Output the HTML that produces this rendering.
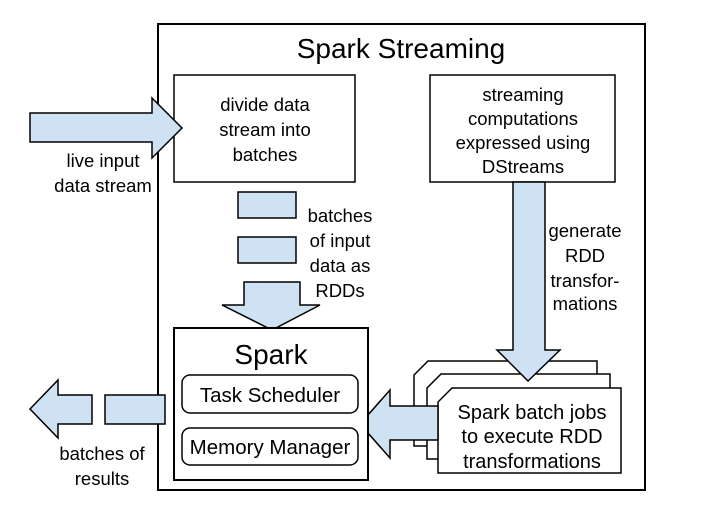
<!DOCTYPE html>
<html><head><meta charset="utf-8"><style>
body{margin:0;background:#fff}
svg text{font-family:"Liberation Sans",sans-serif;fill:#000}
</style></head><body>
<svg width="708" height="514" viewBox="0 0 708 514" xmlns="http://www.w3.org/2000/svg">
<g fill="#cfe2f3" stroke="#000" stroke-width="1.5">
<rect x="158" y="24" width="487" height="466" fill="#fff" stroke-width="2"/>
<rect x="174" y="75" width="181" height="107" fill="#fff"/>
<rect x="430" y="75" width="185" height="107" fill="#fff"/>
<polygon points="30,113 152,113 152,98 182,128 152,158 152,142 30,142"/>
<rect x="238" y="192" width="58" height="26"/>
<rect x="238" y="237" width="58" height="26"/>
<polygon points="244,282 300,282 300,305 320,305 272,330 222,305 244,305"/>
<polygon points="428,361 597,361 597,446 414,446 414,375" fill="#fff"/>
<polygon points="441,374 610,374 610,459 427,459 427,388" fill="#fff"/>
<polygon points="452,388 621,388 621,473 438,473 438,402" fill="#fff"/>
<polygon points="513,182 545,182 545,350 560,350 528,381 497,350 513,350"/>
<polygon points="438,406 390,406 390,390 360,424 390,458 390,440 438,440"/>
<rect x="174" y="328" width="194" height="152" fill="#fff" stroke-width="2"/>
<rect x="182" y="375" width="176" height="38" rx="8" fill="#fff"/>
<rect x="182" y="428" width="176" height="37" rx="8" fill="#fff"/>
<rect x="105" y="395" width="60" height="29"/>
<polygon points="92,395 58,395 58,380 30,409 58,438 58,424 92,424"/>
</g>
<g font-size="18.5" text-anchor="middle">
<text x="401" y="58" font-size="28">Spark Streaming</text>
<text x="265" y="111">divide data</text>
<text x="265" y="136">stream into</text>
<text x="265" y="161">batches</text>
<text x="523" y="101">streaming</text>
<text x="523" y="125">computations</text>
<text x="523" y="149">expressed using</text>
<text x="523" y="173">DStreams</text>
<text x="103" y="167">live input</text>
<text x="103" y="192">data stream</text>
<text x="340" y="222">batches</text>
<text x="340" y="247">of input</text>
<text x="340" y="272">data as</text>
<text x="340" y="297">RDDs</text>
<text x="585" y="237">generate</text>
<text x="585" y="262">RDD</text>
<text x="585" y="287">transfor-</text>
<text x="585" y="310">mations</text>
<text x="271" y="364" font-size="28">Spark</text>
<text x="270" y="402" font-size="20.5">Task Scheduler</text>
<text x="270" y="454" font-size="20.5">Memory Manager</text>
<text x="532" y="419" font-size="20">Spark batch jobs</text>
<text x="532" y="443" font-size="20">to execute RDD</text>
<text x="532" y="468" font-size="20">transformations</text>
<text x="102" y="460">batches of</text>
<text x="102" y="485">results</text>
</g>
</svg>
</body></html>
